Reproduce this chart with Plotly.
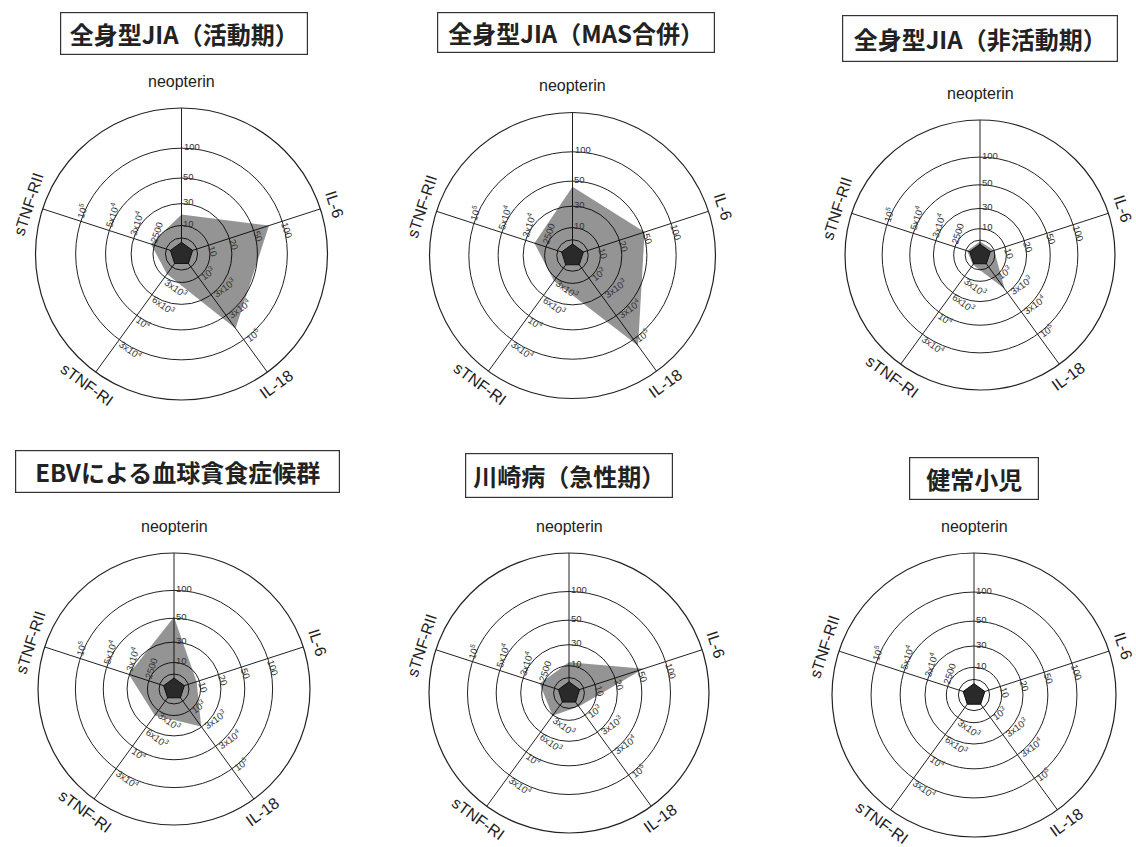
import math
import re
import plotly.graph_objects as go

W, H = 1136, 847

# ---------------- data ----------------
axes_names = ["neopterin", "IL-6", "IL-18", "sTNF-RI", "sTNF-RII"]

titles = ["全身型JIA（活動期）", "全身型JIA（MAS合併）", "全身型JIA（非活動期）",
          "EBVによる血球貪食症候群", "川崎病（急性期）", "健常小児"]

# radial position of each group's value on each axis (fraction of outer circle)
jia_active   = [0.27, 0.63, 0.63, 0.17, 0.22]
jia_mas      = [0.48, 0.53, 0.78, 0.22, 0.28]
jia_inactive = [0.10, 0.11, 0.31, 0.09, 0.10]
ebv_hlh      = [0.53, 0.175, 0.34, 0.24, 0.35]
kawasaki     = [0.22, 0.56, 0.12, 0.20, 0.22]
healthy      = [0.08, 0.08, 0.08, 0.08, 0.08]
groups = [jia_active, jia_mas, jia_inactive, ebv_hlh, kawasaki, healthy]

normal_range = [0.08, 0.08, 0.08, 0.08, 0.08]

# ring positions (fraction of outer radius)
rings = [0.11, 0.195, 0.345, 0.52, 0.725]

# tick labels on rings 2..5 for each axis
tick_neopterin = ["10", "30", "50", "100"]
tick_il6 = ["10", "20", "50", "100"]
tick_il18 = ["10<sup>3</sup>", "3x10<sup>3</sup>", "3x10<sup>4</sup>", "10<sup>5</sup>"]
tick_tnfr1 = ["3x10<sup>3</sup>", "6x10<sup>3</sup>", "10<sup>4</sup>", "3x10<sup>4</sup>"]
tick_tnfr2 = ["2500", "3x10<sup>4</sup>", "5x10<sup>4</sup>", "10<sup>5</sup>"]
tick_sets = [tick_neopterin, tick_il6, tick_il18, tick_tnfr1, tick_tnfr2]

# ---------------- layout geometry ----------------
centers = [(181.5, 254, 146), (572.5, 255.5, 143), (980, 255, 135),
           (174, 689, 136), (569, 693, 140), (974, 695, 142)]
title_boxes = [(184, 33.5, 248, 43), (576, 32.5, 278, 41), (980, 38.5, 276, 47),
               (177.5, 471.5, 325, 43), (569, 475.5, 208, 45), (974, 478.5, 130, 43)]

fig = go.Figure()
annotations = []
LINE = "#222"


def px(x, y):
    return x / W, 1 - y / H


def plain_len(s):
    return len(re.sub(r"<[^>]+>", "", s))


def text_angle(a_deg):
    if 90 < a_deg < 270:
        return a_deg - 180
    return ((a_deg + 180) % 360) - 180


for i in range(6):
    cx, cy, R = centers[i]
    pid = "polar" if i == 0 else f"polar{i+1}"
    dom = dict(x=[(cx - R) / W, (cx + R) / W], y=[1 - (cy + R) / H, 1 - (cy - R) / H])
    fig.update_layout(**{pid: dict(
        domain=dom,
        bgcolor="rgba(0,0,0,0)",
        angularaxis=dict(type="category", categoryarray=axes_names, rotation=90,
                         direction="clockwise", showgrid=True, gridcolor=LINE,
                         gridwidth=1.1, showline=True, linecolor=LINE, linewidth=1.2,
                         showticklabels=False, ticks=""),
        radialaxis=dict(range=[0, 1], tickvals=rings, showticklabels=False, ticks="",
                        showline=False, gridcolor=LINE, gridwidth=1.1),
    )})
    # gray group polygon
    fig.add_trace(go.Scatterpolar(
        r=groups[i] + [groups[i][0]], theta=axes_names + [axes_names[0]],
        fill="toself", fillcolor="rgba(0,0,0,0.42)", mode="lines",
        line=dict(width=0, color="rgba(0,0,0,0)"), subplot=pid, showlegend=False))
    # normal range pentagon
    fig.add_trace(go.Scatterpolar(
        r=normal_range + [normal_range[0]], theta=axes_names + [axes_names[0]],
        fill="toself", fillcolor="#2a2a2a", mode="lines",
        line=dict(width=1, color="#111"), subplot=pid, showlegend=False))

    for k, name in enumerate(axes_names):
        a_deg = 72 * k
        th = math.radians(a_deg)
        ux, uy = math.sin(th), -math.cos(th)
        ta = text_angle(a_deg)
        # axis name
        off = 27 if k == 0 else 15
        x, y = px(cx + ux * (R + off), cy + uy * (R + off))
        annotations.append(dict(x=x, y=y, xref="paper", yref="paper", text=name,
                                showarrow=False, textangle=ta, xanchor="center",
                                yanchor="middle",
                                font=dict(family="Liberation Sans", size=16,
                                          color="#222")))
        # tick labels
        rd = math.radians(ta)
        rdx, rdy = math.cos(rd), math.sin(rd)
        for j, lab in enumerate(tick_sets[k]):
            rr = rings[j + 1] * R + 2
            half = plain_len(lab) * 2.7 + 2
            x0 = cx + ux * rr + rdx * half
            y0 = cy + uy * rr + rdy * half
            x, y = px(x0, y0)
            annotations.append(dict(x=x, y=y, xref="paper", yref="paper", text=lab,
                                    showarrow=False, textangle=ta, xanchor="center",
                                    yanchor="middle",
                                    font=dict(family="Liberation Sans", size=9.5,
                                              color="#333")))

    # title box
    tx, ty, bw, bh = title_boxes[i]
    x, y = px(tx, ty)
    annotations.append(dict(x=x, y=y, xref="paper", yref="paper",
                            text=f"<b>{titles[i]}</b>", showarrow=False,
                            xanchor="center", yanchor="middle",
                            width=bw - 8, height=bh - 8, borderpad=3,
                            bordercolor="#333", borderwidth=1.2,
                            font=dict(family="Noto Sans CJK JP", size=24, color="#222")))

fig.update_layout(width=W, height=H, margin=dict(l=0, r=0, t=0, b=0),
                  paper_bgcolor="white", plot_bgcolor="white",
                  annotations=annotations, showlegend=False)

fig.write_html("out.html")
